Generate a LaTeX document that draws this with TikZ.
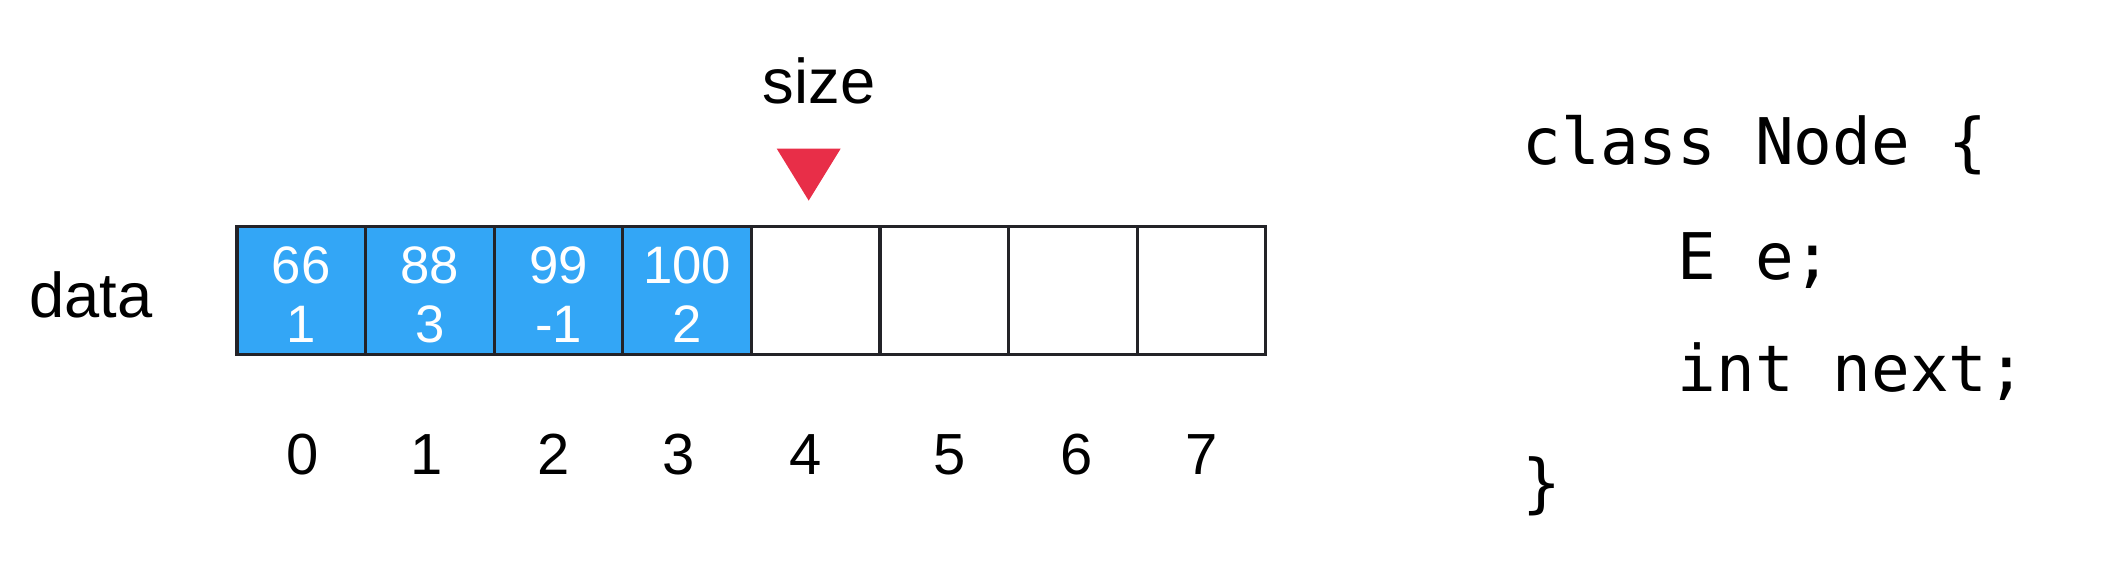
\documentclass[tikz,border=0pt]{standalone}
\usepackage{fontspec}
\setmainfont{Liberation Sans}
\setmonofont{DejaVu Sans Mono}
\usetikzlibrary{positioning}
\definecolor{ArrBlue}{RGB}{51,166,246}
\definecolor{ArrRed}{RGB}{232,46,72}
\definecolor{ArrLine}{RGB}{35,35,40}
\tikzset{
  arr/cell/.style={
    draw=ArrLine,
    line width=0.9pt,
    minimum size=1.286cm,
    inner sep=0pt
  },
  arr/used/.style={arr/cell, fill=ArrBlue},
  arr/value/.style={
    text=white,
    align=center,
    inner sep=0pt,
    font=\fontsize{15}{16.8}\selectfont
  },
  arr/index/.style={font=\fontsize{16.5}{18}\selectfont, anchor=base, inner sep=0pt},
  arr/label/.style={font=\fontsize{18}{20}\selectfont, inner sep=0pt},
  arr/code/.style={font=\ttfamily\fontsize{18.3}{20}\selectfont, anchor=base west, inner sep=0pt}
}

\begin{document}
\begin{tikzpicture}[x=1cm,y=1cm]
  \useasboundingbox (0,0) rectangle (21.18,5.64);
  % the array
  \foreach \i/\v/\n in {0/66/1,1/88/3,2/99/-1,3/100/2}{
    \node[arr/used] (c\i) at (3.013+1.286*\i,2.735) {};
    \node[arr/value] (v\i) at ([yshift=-0.045cm]c\i.center) {\v\\\n};
  }
  \foreach \i in {4,...,7}{
    \node[arr/cell] (c\i) at (3.013+1.286*\i,2.735) {};
  }
  \foreach \i/\x in {0/3.03,1/4.27,2/5.54,3/6.79,4/8.06,5/9.50,6/10.77,7/12.02}{
    \node[arr/index] (i\i) at (\x,0.89) {\i};
  }
  \node[arr/label,anchor=base east] (data) at (1.53,2.46) {data};
  % size pointer
  \node[arr/label,anchor=base] (size) at (8.19,4.60) {size};
  \coordinate (tip) at ([xshift=-0.07cm,yshift=0.24cm]c4.north);
  \fill[ArrRed] (tip) -- ++(-0.32,0.52) -- ++(0.64,0) -- cycle;
  % the class
  \node[arr/code] (l1) at (15.22,3.99) {class Node \{};
  \node[arr/code] (l2) at (16.77,2.84) {E e;};
  \node[arr/code] (l3) at (16.77,1.72) {int next;};
  \node[arr/code] (l4) at (15.22,0.58) {\}};
\end{tikzpicture}
\end{document}
